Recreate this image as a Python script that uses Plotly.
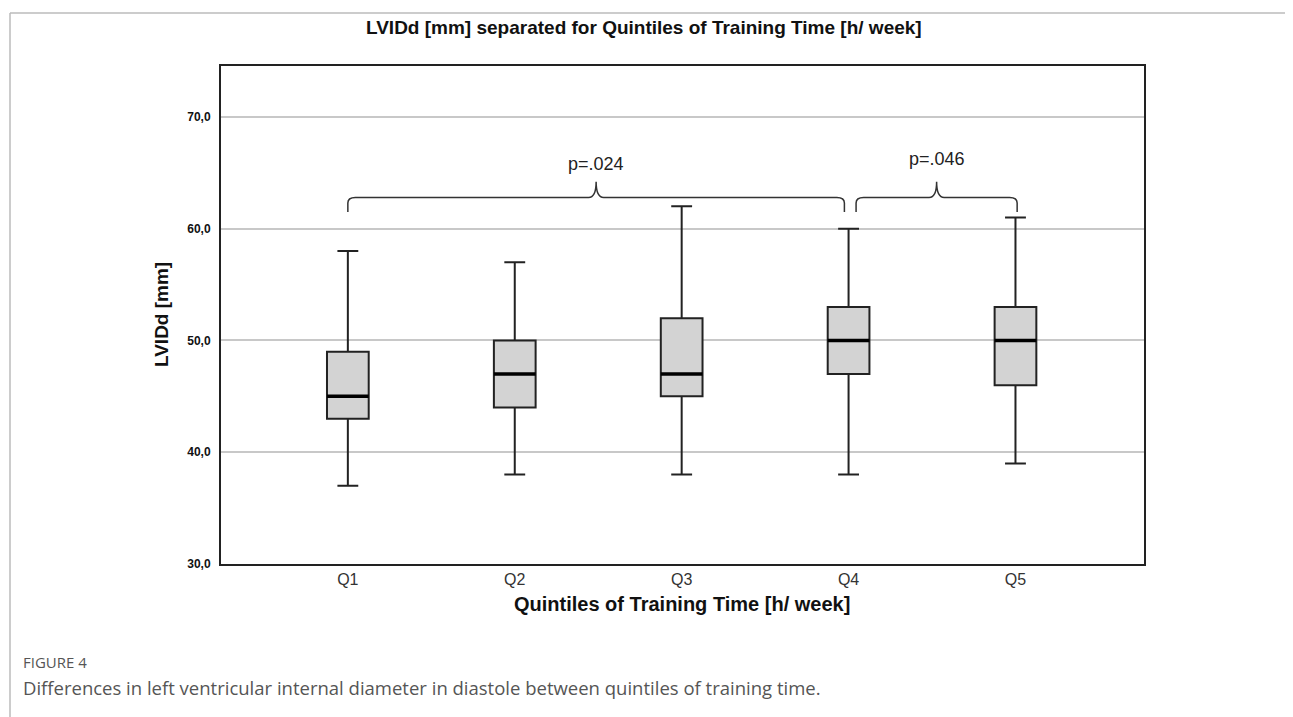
import plotly.graph_objects as go

# ---- data ----
categories = ["Q1", "Q2", "Q3", "Q4", "Q5"]
lower_whisker = [37, 38, 38, 38, 39]
q1_values = [43, 44, 45, 47, 46]
medians = [45, 47, 47, 50, 50]
q3_values = [49, 50, 52, 53, 53]
upper_whisker = [58, 57, 62, 60, 61]

y_ticks = [30, 40, 50, 60, 70]
y_tick_labels = ["30,0", "40,0", "50,0", "60,0", "70,0"]

# significance comparisons: (from index, to index, label)
comp_from = [0.0, 3.045]
comp_to = [2.975, 4.01]
comp_labels = ["p=.024", "p=.046"]
comp_label_y = [65.8, 66.2]

title = "LVIDd [mm] separated for Quintiles of Training Time [h/ week]"
x_title = "Quintiles of Training Time [h/ week]"
y_title = "LVIDd [mm]"
fig_label = "FIGURE 4"
caption = "Differences in left ventricular internal diameter in diastole between quintiles of training time."

BOX_W = 0.25
positions = list(range(len(categories)))

# plot area in screen pixels (for placing page-level texts)
PL, PR, PT, PB = 220, 1143, 65, 563
def px(x):
    return (x - PL) / (PR - PL)
def py(y):
    return (PB - y) / (PB - PT)

fig = go.Figure()
for i, c in enumerate(categories):
    fig.add_trace(go.Box(
        x=[positions[i]], q1=[q1_values[i]], median=[medians[i]], q3=[q3_values[i]],
        lowerfence=[lower_whisker[i]], upperfence=[upper_whisker[i]],
        name=c, width=BOX_W, whiskerwidth=0.5,
        fillcolor="#d3d3d3", line=dict(color="#222222", width=2),
        boxpoints=False, showlegend=False, hoverinfo="skip",
    ))
    fig.add_trace(go.Scatter(
        x=[positions[i] - BOX_W / 2, positions[i] + BOX_W / 2],
        y=[medians[i], medians[i]], mode="lines",
        line=dict(color="#000000", width=3.5), showlegend=False, hoverinfo="skip",
    ))

def brace(x0, x1, yb, yh, yp, dx=0.045, r=0.5):
    xm = (x0 + x1) / 2
    return (f"M {x0},{yb} L {x0},{yh - r} Q {x0},{yh} {x0 + dx},{yh} "
            f"L {xm - dx},{yh} Q {xm},{yh} {xm},{yp} Q {xm},{yh} {xm + dx},{yh} "
            f"L {x1 - dx},{yh} Q {x1},{yh} {x1},{yh - r} L {x1},{yb}")

shapes = []
annotations = []
for a, b, lab, ly in zip(comp_from, comp_to, comp_labels, comp_label_y):
    shapes.append(dict(type="path", xref="x", yref="y",
                       path=brace(a, b, 61.5, 62.8, 64.2),
                       line=dict(color="#333333", width=1.5)))
    annotations.append(dict(x=(a + b) / 2, y=ly, xref="x", yref="y", text=lab,
                            xanchor="center", yanchor="middle", showarrow=False,
                            font=dict(family="Liberation Sans", size=18, color="#222222")))

# page frame lines
shapes.append(dict(type="line", xref="paper", yref="paper", x0=px(9), x1=px(1300), y0=py(12), y1=py(12),
                   line=dict(color="#bbbbbb", width=1.5)))
shapes.append(dict(type="line", xref="paper", yref="paper", x0=px(9), x1=px(9), y0=py(12), y1=py(730),
                   line=dict(color="#bbbbbb", width=1.5)))

def ann(x, y, text, size, color="#111111", family="Liberation Sans", xanchor="center", angle=0):
    annotations.append(dict(x=px(x), y=py(y), xref="paper", yref="paper", text=text,
                            xanchor=xanchor, yanchor="middle", showarrow=False, textangle=angle,
                            font=dict(family=family, size=size, color=color)))

ann(643, 27, f"<b>{title}</b>", 19)
ann(681, 603, f"<b>{x_title}</b>", 20)
ann(160, 314, f"<b>{y_title}</b>", 19, angle=-90)
ann(20, 661, fig_label, 15, color="#555555", family="Open Sans", xanchor="left")
ann(20, 686, caption, 18.5, color="#555555", family="Open Sans", xanchor="left")

fig.update_layout(
    width=1293, height=717,
    margin=dict(l=213, r=157, t=58, b=161),
    paper_bgcolor="white", plot_bgcolor="white",
    shapes=shapes, annotations=annotations,
    xaxis=dict(range=[-0.76, 4.77], tickvals=positions, ticktext=categories,
               showgrid=False, zeroline=False, showline=True, linecolor="#222222", linewidth=2,
               mirror=True, ticks="", tickfont=dict(family="Liberation Sans", size=16, color="#333333")),
    yaxis=dict(range=[30, 74.56], tickvals=y_ticks, ticktext=y_tick_labels,
               showgrid=True, gridcolor="#c8c8c8", gridwidth=1.5, zeroline=False,
               showline=True, linecolor="#222222", linewidth=2, mirror=True, ticks="",
               ticklabelstandoff=6,
               tickfont=dict(family="Liberation Sans", size=12, color="#111111", weight="bold")),
    font=dict(family="Liberation Sans"),
)

fig.write_html("out.html")
